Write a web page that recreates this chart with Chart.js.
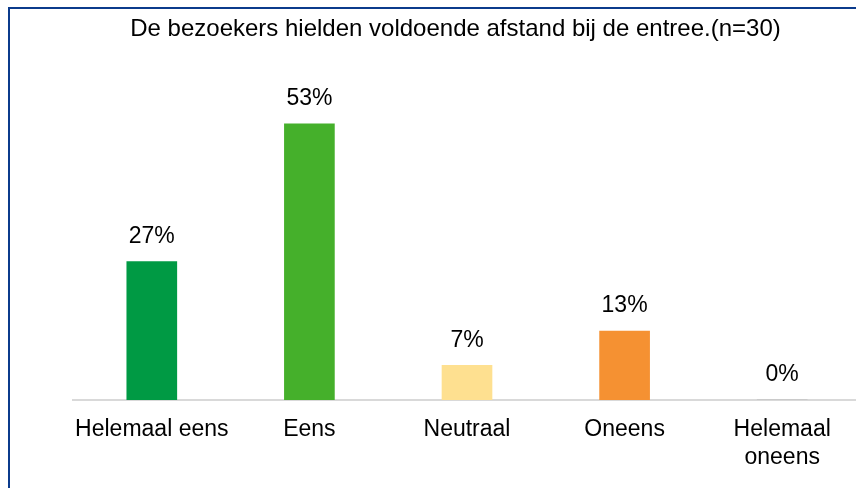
<!DOCTYPE html>
<html>
<head>
<meta charset="utf-8">
<script src="https://cdn.jsdelivr.net/npm/chart.js@4.4.1/dist/chart.umd.min.js"></script>
<style>
  html, body { margin: 0; padding: 0; background: #fff; width: 856px; height: 488px; overflow: hidden; }
  #frame { position: absolute; left: 8px; top: 7px; width: 1000px; height: 600px;
           border-left: 2px solid #0b3b8c; border-top: 2px solid #0b3b8c; }
  #title { position: absolute; left: 0; top: 14px; width: 911px; text-align: center;
           font: 24px "Liberation Sans", Arial, sans-serif; line-height: 28px; color: #000; }
  #chart { position: absolute; left: 0; top: 0; }
</style>
</head>
<body>
<div id="frame"></div>
<canvas id="chart" width="902" height="488"></canvas>
<div id="title">De bezoekers hielden voldoende afstand bij de entree.(n=30)</div>
<script>
const categories = ['Helemaal eens', 'Eens', 'Neutraal', 'Oneens', ['Helemaal', 'oneens']];
const values = [26.7, 53.3, 6.7, 13.3, 0];
const barColors = ['#009a44', '#45b02b', '#fee090', '#f59132', '#9e9e9e'];
const pctLabels = values.map(v => Math.round(v) + '%');

const fontFamily = '"Liberation Sans", Arial, sans-serif';

// draws the percentages above the bars
const valueLabels = {
    id: 'valueLabels',
    afterDatasetsDraw(chart) {
        const ctx = chart.ctx;
        const meta = chart.getDatasetMeta(0);
        ctx.save();
        ctx.font = '23px ' + fontFamily;
        ctx.fillStyle = '#000';
        ctx.textAlign = 'center';
        ctx.textBaseline = 'middle';
        meta.data.forEach((bar, i) => {
            ctx.fillText(pctLabels[i], bar.x, bar.y - 25);
        });
        ctx.restore();
    }
};

window.onload = () => {
    const ctx = document.getElementById('chart').getContext('2d');
    new Chart(ctx, {
        type: 'bar',
        data: {
            labels: categories,
            datasets: [{
                data: values,
                backgroundColor: barColors,
                borderWidth: 0,
                barThickness: 50
            }]
        },
        options: {
            responsive: false,
            animation: false,
            layout: { padding: { left: 73, right: 41, top: 89, bottom: 0 } },
            plugins: {
                legend: { display: false },
                tooltip: { enabled: false }
            },
            scales: {
                x: {
                    grid: { display: false, drawTicks: false },
                    border: { display: true, color: '#d9d9d9', width: 2 },
                    ticks: {
                        color: '#000',
                        padding: 16,
                        maxRotation: 0,
                        autoSkip: false,
                        font: { family: fontFamily, size: 23, lineHeight: 1.22 }
                    },
                    afterFit: axis => { axis.height = 88; }
                },
                y: {
                    display: false,
                    min: 0,
                    max: 60
                }
            }
        },
        plugins: [valueLabels]
    });
};
</script>
</body>
</html>
